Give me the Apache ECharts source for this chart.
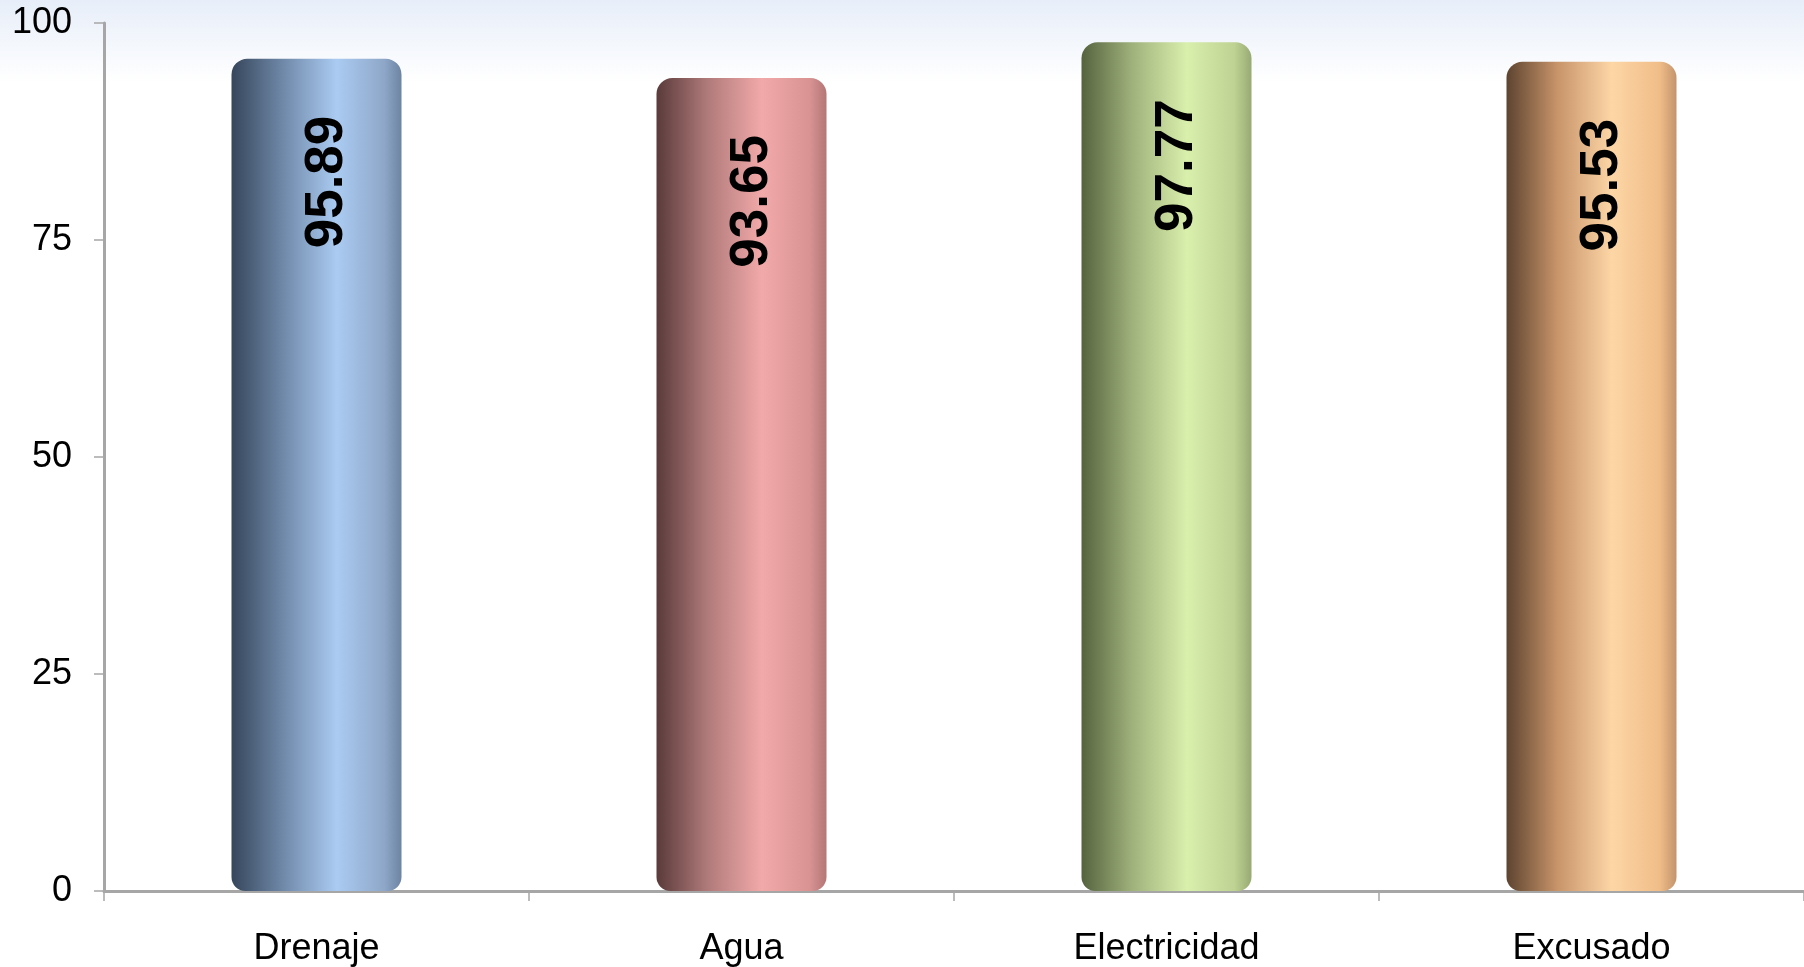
<!DOCTYPE html>
<html>
<head>
<meta charset="utf-8">
<script src="https://cdn.jsdelivr.net/npm/echarts@6/dist/echarts.min.js"></script>
<style>
html,body{margin:0;padding:0;background:#fff;}
#chart{width:1804px;height:967px;}
</style>
</head>
<body>
<div id="chart"></div>
<script>
const categories = ['Drenaje', 'Agua', 'Electricidad', 'Excusado'];
const values = [95.89, 93.65, 97.77, 95.53];
const yTicks = [0, 25, 50, 75, 100];

const palettes = [
  ['#36465b', '#6f88a8', '#abcbf2', '#8ea7c8', '#6d84a2'],
  ['#5a3a3a', '#b07a7a', '#f2a9a9', '#d99393', '#b47676'],
  ['#55633e', '#a0b27c', '#d9efac', '#bed293', '#98aa74'],
  ['#5d4430', '#c8946a', '#fdd6a6', '#f0bd88', '#c3946c']
];

function cyl(p) {
  return new echarts.graphic.LinearGradient(0, 0, 1, 0, [
    {offset: 0, color: p[0]},
    {offset: 0.3, color: p[1]},
    {offset: 0.62, color: p[2]},
    {offset: 0.9, color: p[3]},
    {offset: 1, color: p[4]}
  ]);
}

const chart = echarts.init(document.getElementById('chart'), null, {renderer: 'canvas'});
chart.setOption({
  animation: false,
  backgroundColor: {
    type: 'linear', x: 0, y: 0, x2: 0, y2: 1,
    colorStops: [
      {offset: 0, color: '#e7eef9'},
      {offset: 0.085, color: '#ffffff'},
      {offset: 1, color: '#ffffff'}
    ]
  },
  grid: {left: 104, right: -5, top: 23, bottom: 73, containLabel: false},
  xAxis: {
    type: 'category',
    data: categories,
    boundaryGap: true,
    axisLine: {lineStyle: {color: '#a6a6a6', width: 3}},
    axisTick: {show: true, length: 10, lineStyle: {color: '#a6a6a6', width: 1.5}},
    axisLabel: {
      color: '#000', fontFamily: 'Liberation Sans, Arial, sans-serif',
      fontSize: 36, margin: 40
    },
    splitLine: {show: false}
  },
  yAxis: {
    type: 'value',
    min: yTicks[0], max: yTicks[yTicks.length - 1], interval: 25,
    axisLine: {show: true, lineStyle: {color: '#a6a6a6', width: 3}},
    axisTick: {show: true, length: 10, lineStyle: {color: '#a6a6a6', width: 1.5}},
    axisLabel: {
      color: '#000', fontFamily: 'Liberation Sans, Arial, sans-serif',
      fontSize: 36, margin: 32
    },
    splitLine: {show: false}
  },
  series: [{
    type: 'bar',
    barWidth: '40%',
    data: values.map((v, i) => ({
      value: v,
      itemStyle: {color: cyl(palettes[i]), borderRadius: [16, 16, 14, 14]}
    })),
    label: {
      show: true,
      position: 'insideTop',
      rotate: 90,
      align: 'right',
      verticalAlign: 'middle',
      distance: 62,
      offset: [5, 11],
      color: '#000',
      fontWeight: 'bold',
      fontSize: 53,
      fontFamily: 'Liberation Sans, Arial, sans-serif',
      formatter: p => p.value.toFixed(2)
    }
  }]
});
</script>
</body>
</html>
